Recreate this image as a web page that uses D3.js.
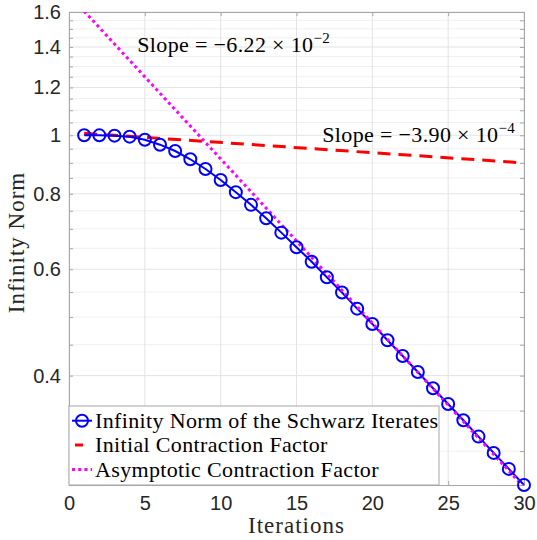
<!DOCTYPE html>
<html>
<head>
<meta charset="utf-8">
<script src="https://cdn.jsdelivr.net/npm/d3@7"></script>
<style>
  body { margin: 0; background: #fff; }
  .serif { font-family: "Liberation Serif", "Times New Roman", serif; letter-spacing: 0.35px; }
  .tick-label { font-family: "Liberation Sans", Arial, sans-serif; font-size: 20px; fill: #262626; }
</style>
</head>
<body>
<svg id="chart" width="537" height="540"></svg>
<script>
// Data
const iterations = [1, 2, 3, 4, 5, 6, 7, 8, 9, 10, 11, 12, 13, 14, 15,
                    16, 17, 18, 19, 20, 21, 22, 23, 24, 25, 26, 27, 28, 29, 30];
const infNorm = [1.0, 0.9998, 0.9985, 0.9947, 0.983, 0.9648, 0.9418, 0.9126, 0.8794, 0.8432,
                 0.805, 0.767, 0.7286, 0.6899, 0.6526, 0.6176, 0.5819, 0.5492, 0.5163, 0.4871,
                 0.4577, 0.4311, 0.4056, 0.3812, 0.359, 0.3374, 0.317, 0.2979, 0.2803, 0.2636];
const initialX = [1, 30];
const initialY = [1.0077, 0.900];
const asymptoticX = [1, 30];
const asymptoticY = [1.605, 0.2614];
const xTicks = [0, 5, 10, 15, 20, 25, 30];
const yTicks = [0.4, 0.6, 0.8, 1, 1.2, 1.4, 1.6];
const yMinorTicks = [0.3, 0.35, 0.45, 0.5, 0.55, 0.65, 0.7, 0.75, 0.85, 0.9, 0.95,
                     1.05, 1.1, 1.15, 1.25, 1.3, 1.35, 1.45, 1.5, 1.55];
const legendLabels = ["Infinity Norm of the Schwarz Iterates",
                      "Initial Contraction Factor",
                      "Asymptotic Contraction Factor"];

const MARGIN = { left: 69, top: 12, right: 13, bottom: 55 };
const svg = d3.select("#chart");
const width = 537 - MARGIN.left - MARGIN.right;
const height = 540 - MARGIN.top - MARGIN.bottom;

const xScale = d3.scaleLinear().domain([0, 30]).range([0, width]);
const yScale = d3.scaleLog().domain([d3.min(infNorm), 1.6]).range([height, 0]);

const g = svg.append("g").attr("transform", `translate(${MARGIN.left},${MARGIN.top})`);

svg.append("defs").append("clipPath").attr("id", "plot-clip")
  .append("rect").attr("width", width).attr("height", height);

// minor grid
g.selectAll(".minor-grid")
  .data(yMinorTicks)
  .enter().append("line")
  .attr("x1", 0).attr("x2", width)
  .attr("y1", d => yScale(d)).attr("y2", d => yScale(d))
  .attr("stroke", "#f0f0f0").attr("stroke-width", 1);

// major grid
g.selectAll(".ygrid")
  .data(yTicks)
  .enter().append("line")
  .attr("x1", 0).attr("x2", width)
  .attr("y1", d => yScale(d)).attr("y2", d => yScale(d))
  .attr("stroke", "#e3e3e3").attr("stroke-width", 1);

g.selectAll(".xgrid")
  .data(xTicks)
  .enter().append("line")
  .attr("x1", d => xScale(d)).attr("x2", d => xScale(d))
  .attr("y1", 0).attr("y2", height)
  .attr("stroke", "#e3e3e3").attr("stroke-width", 1);

// axes (ticks inward, labels only on left/bottom)
const xAxis = g.append("g").attr("transform", `translate(0,${height})`)
  .call(d3.axisBottom(xScale).tickValues(xTicks).tickSize(-4).tickPadding(11).tickFormat(d3.format("d")));
const xTop = g.append("g")
  .call(d3.axisTop(xScale).tickValues(xTicks).tickSize(-4).tickFormat(""));
const yAxis = g.append("g")
  .call(d3.axisLeft(yScale).tickValues(yTicks).tickSize(-4).tickPadding(8).tickFormat(d3.format("")));
const yRight = g.append("g").attr("transform", `translate(${width},0)`)
  .call(d3.axisRight(yScale).tickValues(yTicks.concat(yMinorTicks)).tickSize(-4).tickFormat(""));
const yLeftMinor = g.append("g")
  .call(d3.axisLeft(yScale).tickValues(yMinorTicks).tickSize(-4).tickFormat(""));

[xAxis, xTop, yAxis, yRight, yLeftMinor].forEach(a => {
  a.selectAll(".domain").attr("stroke", "#a6a6a6");
  a.selectAll(".tick line").attr("stroke", "#a6a6a6");
  a.selectAll("text").attr("class", "tick-label").attr("fill", null);
});
xAxis.selectAll("text").attr("dy", "0.71em");

// lines
const line = d3.line().x(d => xScale(d[0])).y(d => yScale(d[1]));

g.append("path")
  .datum(initialX.map((x, i) => [x, initialY[i]]))
  .attr("d", line)
  .attr("clip-path", "url(#plot-clip)")
  .attr("fill", "none").attr("stroke", "#ff0000")
  .attr("stroke-width", 3).attr("stroke-dasharray", "13,8");

g.append("path")
  .datum(iterations.map((x, i) => [x, infNorm[i]]))
  .attr("d", line)
  .attr("fill", "none").attr("stroke", "#0000ff").attr("stroke-width", 2);

g.append("path")
  .datum(asymptoticX.map((x, i) => [x, asymptoticY[i]]))
  .attr("d", line)
  .attr("clip-path", "url(#plot-clip)")
  .attr("fill", "none").attr("stroke", "#ff00ff")
  .attr("stroke-width", 3).attr("stroke-dasharray", "3,3.2");

g.selectAll(".marker")
  .data(iterations)
  .enter().append("circle")
  .attr("cx", d => xScale(d))
  .attr("cy", (d, i) => yScale(infNorm[i]))
  .attr("r", 6)
  .attr("fill", "none").attr("stroke", "#0000ff").attr("stroke-width", 2);

// slope annotations
function slopeText(x, y, mantissa, exponent) {
  const t = g.append("text").attr("class", "serif")
    .attr("x", x).attr("y", y)
    .style("font-size", "22px").attr("fill", "#000");
  t.append("tspan").text(`Slope = \u2212${mantissa} \u00d7 10`);
  t.append("tspan").attr("dy", -9).style("font-size", "15px").text(`\u2212${exponent}`);
}
slopeText(xScale(4.5), 40, "6.22", "2");
slopeText(xScale(16.7), 130, "3.90", "4");

// legend
const legend = g.append("g").attr("transform", `translate(0,${height - 79})`);
legend.append("rect")
  .attr("width", 370).attr("height", 79)
  .attr("fill", "#fff").attr("stroke", "#a6a6a6").attr("stroke-width", 1);

const rowY = [14.7, 39, 63.5];
legend.selectAll(".legend-text")
  .data(legendLabels)
  .enter().append("text")
  .attr("class", "serif")
  .attr("x", 26).attr("y", (d, i) => rowY[i])
  .attr("dy", "0.33em")
  .style("font-size", "22px").attr("fill", "#000")
  .text(d => d);

legend.append("line").attr("x1", 3).attr("x2", 23).attr("y1", rowY[0]).attr("y2", rowY[0])
  .attr("stroke", "#0000ff").attr("stroke-width", 2);
legend.append("circle").attr("cx", 13).attr("cy", rowY[0]).attr("r", 6)
  .attr("fill", "none").attr("stroke", "#0000ff").attr("stroke-width", 2);
legend.append("line").attr("x1", 6).attr("x2", 14).attr("y1", rowY[1]).attr("y2", rowY[1])
  .attr("stroke", "#ff0000").attr("stroke-width", 3);
legend.append("line").attr("x1", 3).attr("x2", 23).attr("y1", rowY[2]).attr("y2", rowY[2])
  .attr("stroke", "#ff00ff").attr("stroke-width", 3).attr("stroke-dasharray", "3,3.2");

// axis labels
svg.append("text").attr("class", "serif")
  .attr("x", MARGIN.left + width / 2).attr("y", 533)
  .attr("text-anchor", "middle")
  .style("font-size", "23px").attr("fill", "#262626")
  .style("letter-spacing", "1px")
  .text("Iterations");

svg.append("text").attr("class", "serif")
  .attr("transform", `translate(24,${MARGIN.top + height / 2 - 6}) rotate(-90)`)
  .attr("text-anchor", "middle")
  .style("font-size", "23px").attr("fill", "#262626")
  .style("letter-spacing", "1px")
  .text("Infinity Norm");
</script>
</body>
</html>
